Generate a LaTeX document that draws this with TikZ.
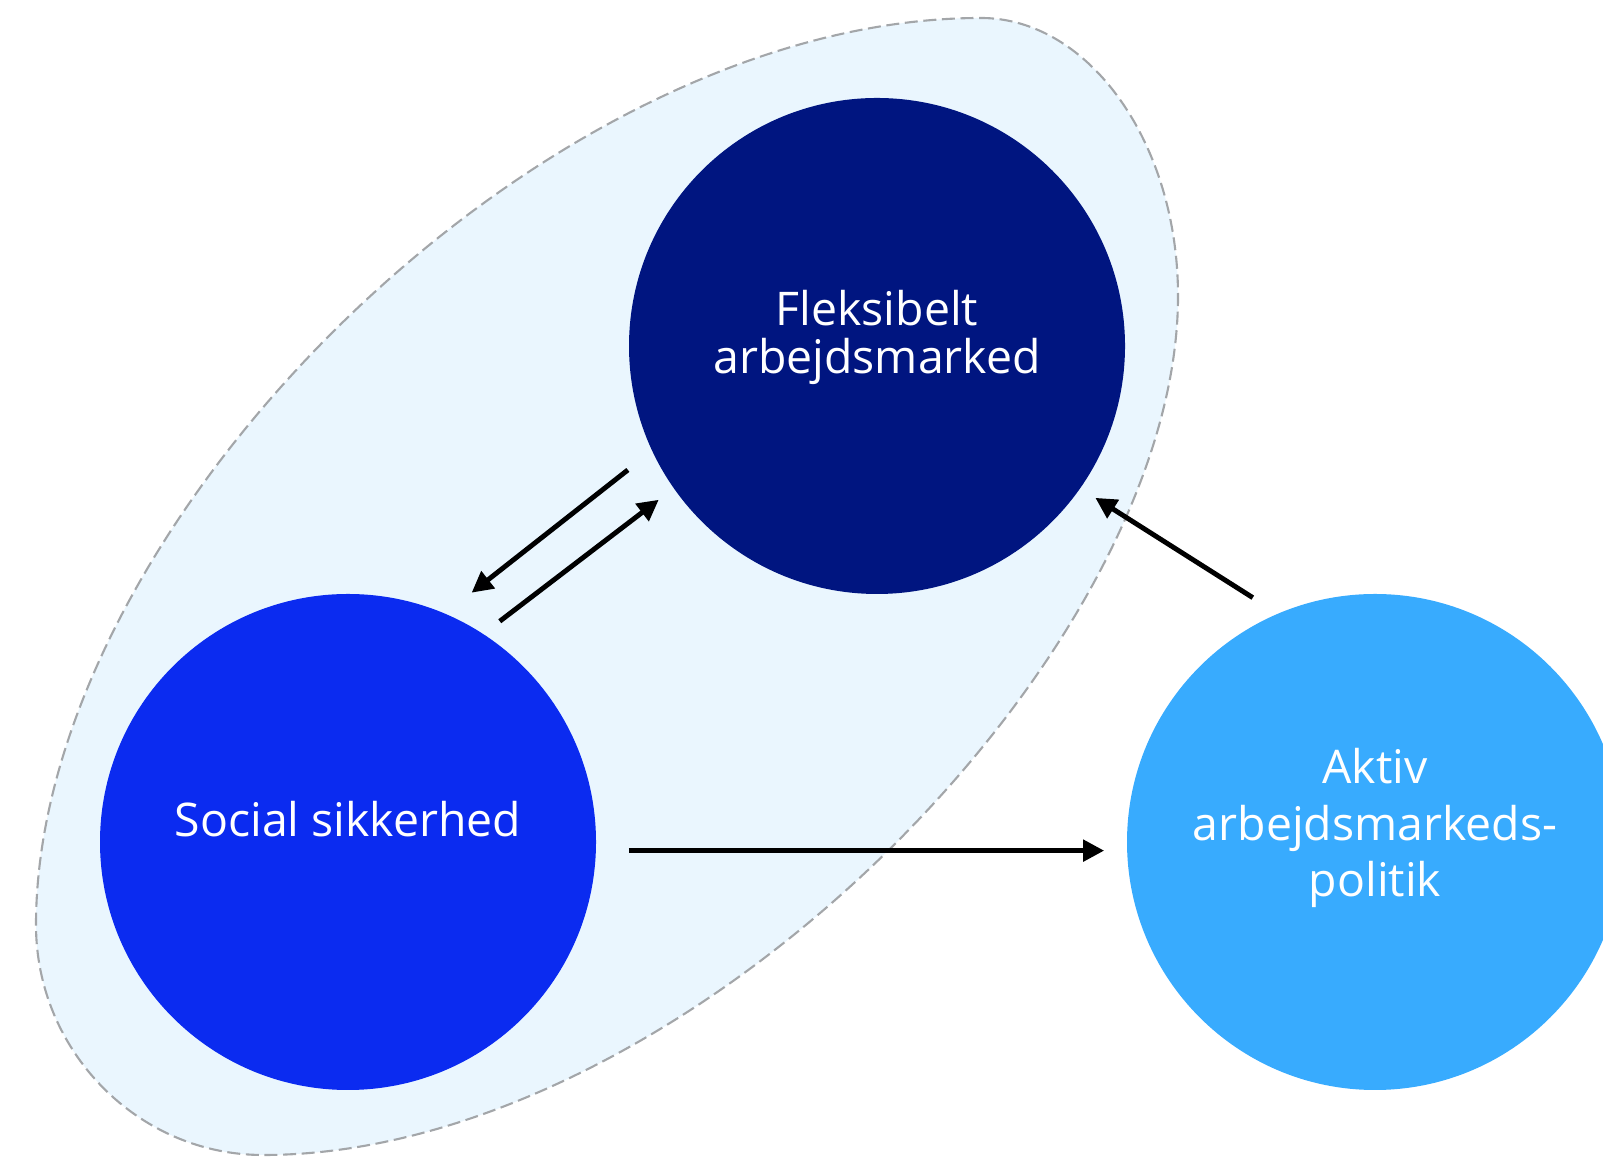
\documentclass[tikz,border=0pt]{standalone}
\usepackage{fontspec}
\setmainfont{Open Sans}
\usetikzlibrary{arrows.meta}
\definecolor{navy}{HTML}{001580}
\definecolor{royal}{HTML}{0B2BF0}
\definecolor{sky}{HTML}{38ABFE}
\definecolor{haze}{HTML}{EAF6FE}
\definecolor{rim}{HTML}{A3A6A9}
\begin{document}
\begin{tikzpicture}[line width=1.4pt, >={Triangle[length=6pt,width=6pt]},
	ball/.style={circle, minimum size=4.96cm, inner sep=0pt, outer sep=0pt},
	lbl/.style={text=white, align=center, font=\fontsize{13.2}{13.66}\selectfont}]
	\useasboundingbox (0,0) rectangle (16.03,11.61);
	% shaded area round the two left circles
	\draw[fill=haze, draw=rim, line width=0.6pt, dash pattern=on 3.7pt off 1.6pt]
		(9.81,11.43) .. controls (10.89,11.43) and (11.78,10.18) .. (11.78,8.65)
		.. controls (11.78,5.05) and (6.83,0.06) .. (2.63,0.06)
		.. controls (1.38,0.06) and (0.36,1.10) .. (0.36,2.36)
		.. controls (0.36,6.36) and (5.41,11.43) .. (9.81,11.43) -- cycle;
	\node (flex) at ( 8.77, 8.15)	[ball, fill = navy]	{};
	\node (social) at ( 3.48, 3.19)	[ball, fill = royal]	{};
	\node (aktiv) at (13.75, 3.19)	[ball, fill = sky]	{};
	\node (flextxt) at ([yshift=0.09cm]flex)	[lbl]	{Fleksibelt\\arbejdsmarked};
	\node (socialtxt) at ([yshift=0.225cm]social)	[lbl]	{Social sikkerhed};
	\node (aktivtxt) at ([yshift=0.14cm]aktiv)	[lbl, font=\fontsize{13.2}{16.2}\selectfont]	{Aktiv\\arbejdsmarkeds-\\politik};
	\draw[->, shorten <=0.31cm, shorten >=0.34cm] (flex.205.8) -- (social.67);
	\draw[->, shorten <=0.21cm, shorten >=0.19cm] (social.57.2) -- (flex.215.5);
	\draw[->, shorten <=0.30cm, shorten >=0.18cm] (aktiv.113) -- (flex.-35.5);
	\draw[->, shorten <=0.33cm, shorten >=0.23cm] (social.-2.1) -- (aktiv.182.1);
\end{tikzpicture}
\end{document}
